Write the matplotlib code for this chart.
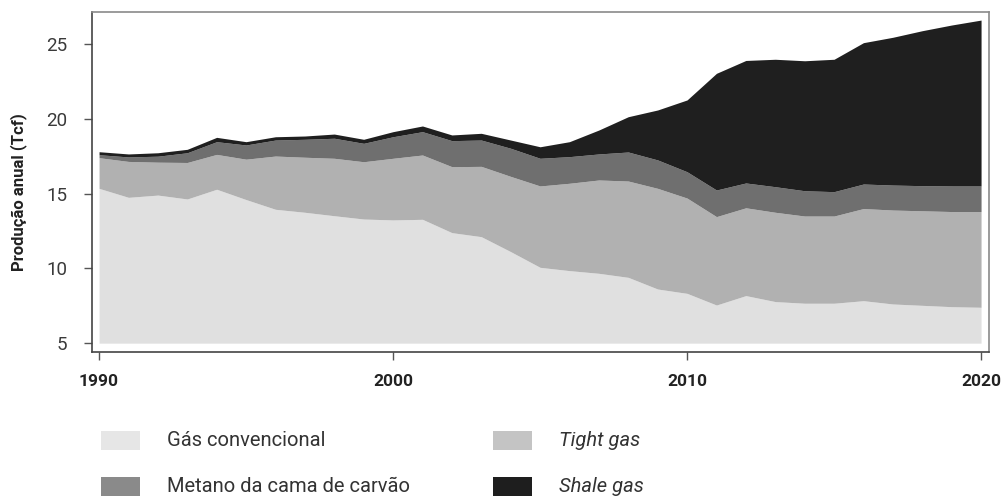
import numpy as np
import matplotlib
matplotlib.use('Agg')
import matplotlib.pyplot as plt
from matplotlib.patches import Rectangle

# Data (Tcf)
years = list(range(1990, 2021))
# conventional gas: top of the lowest layer
conventional = [15.35, 14.75, 14.90, 14.64, 15.29, 14.60, 13.95, 13.75, 13.52, 13.30,
                13.24, 13.28, 12.39, 12.12, 11.12, 10.07, 9.85, 9.67, 9.40, 8.62,
                8.33, 7.55, 8.18, 7.78, 7.67, 7.67, 7.84, 7.62, 7.53, 7.44, 7.40]
tight_gas = [2.05, 2.40, 2.20, 2.44, 2.33, 2.70, 3.56, 3.68, 3.84, 3.83,
             4.12, 4.30, 4.41, 4.70, 5.03, 5.44, 5.84, 6.24, 6.44, 6.73,
             6.37, 5.91, 5.87, 5.97, 5.83, 5.83, 6.16, 6.28, 6.32, 6.36, 6.40]
coalbed_methane = [0.20, 0.30, 0.40, 0.65, 0.85, 0.95, 1.07, 1.20, 1.34, 1.23,
                   1.44, 1.56, 1.74, 1.76, 1.88, 1.85, 1.78, 1.74, 1.94, 1.90,
                   1.76, 1.78, 1.66, 1.71, 1.69, 1.63, 1.64, 1.67, 1.68, 1.71, 1.71]
shale_gas = [0.20, 0.20, 0.23, 0.23, 0.29, 0.22, 0.22, 0.22, 0.28, 0.27,
             0.34, 0.38, 0.38, 0.45, 0.55, 0.77, 1.00, 1.60, 2.36, 3.34,
             4.80, 7.80, 8.19, 8.52, 8.69, 8.85, 9.45, 9.88, 10.36, 10.76, 11.09]

labels = ['Gás convencional', 'Tight gas', 'Metano da cama de carvão', 'Shale gas']
area_colors = ['#e0e0e0', '#b1b1b1', '#6f6f6f', '#1f1f1f']
legend_colors = ['#e6e6e6', '#c4c4c4', '#8a8a8a', '#1e1e1e']
base = 5.0

plt.rcParams['font.family'] = ['Roboto', 'DejaVu Sans']

fig = plt.figure(figsize=(10.01, 4.96), dpi=100)
ax = fig.add_axes([92 / 1001, 1 - 352 / 496, (989 - 92) / 1001, (352 - 12) / 496])

x = np.array(years)
tops = np.cumsum([conventional, tight_gas, coalbed_methane, shale_gas], axis=0)
lower = np.full(len(years), base)
for top, col in zip(tops, area_colors):
    ax.fill_between(x, lower, top, color=col, lw=0)
    lower = top

ax.set_xlim(1989.76, 2020.27)
ax.set_ylim(4.41, 27.14)
ax.set_xticks([1990, 2000, 2010, 2020])
ax.set_yticks([5, 10, 15, 20, 25])
ax.tick_params(axis='y', length=6, width=1, color='#555555', pad=12,
               labelsize=13.5, labelcolor='#3a3a3a')
ax.tick_params(axis='x', length=6, width=1, color='#555555', pad=10,
               labelsize=12.5, labelcolor='#222222')
for lab in ax.get_xticklabels():
    lab.set_fontweight('bold')

for side in ['left', 'bottom']:
    ax.spines[side].set_color('#444444')
    ax.spines[side].set_linewidth(1.2)
for side in ['top', 'right']:
    ax.spines[side].set_color('#8a8a8a')
    ax.spines[side].set_linewidth(1.2)

fig.text(19 / 1001, 1 - 192 / 496, 'Produção anual (Tcf)', rotation=90,
         ha='center', va='center', fontsize=12, fontweight='bold', color='#222222')

# legend drawn by hand below the chart
cols_x = [101, 493]
rows_y = [440.5, 486.5]
for i, (lab, col) in enumerate(zip(labels, legend_colors)):
    px = cols_x[i % 2]
    py = rows_y[i // 2]
    fig.patches.append(Rectangle((px / 1001, 1 - (py + 9.5) / 496), 39 / 1001, 19 / 496,
                                 transform=fig.transFigure, color=col, lw=0))
    style = 'italic' if i in (1, 3) else 'normal'
    fig.text((px + 66) / 1001, 1 - py / 496, lab, ha='left', va='center',
             fontsize=14.5, style=style, color='#333333')

fig.savefig('out.png', dpi=100)
